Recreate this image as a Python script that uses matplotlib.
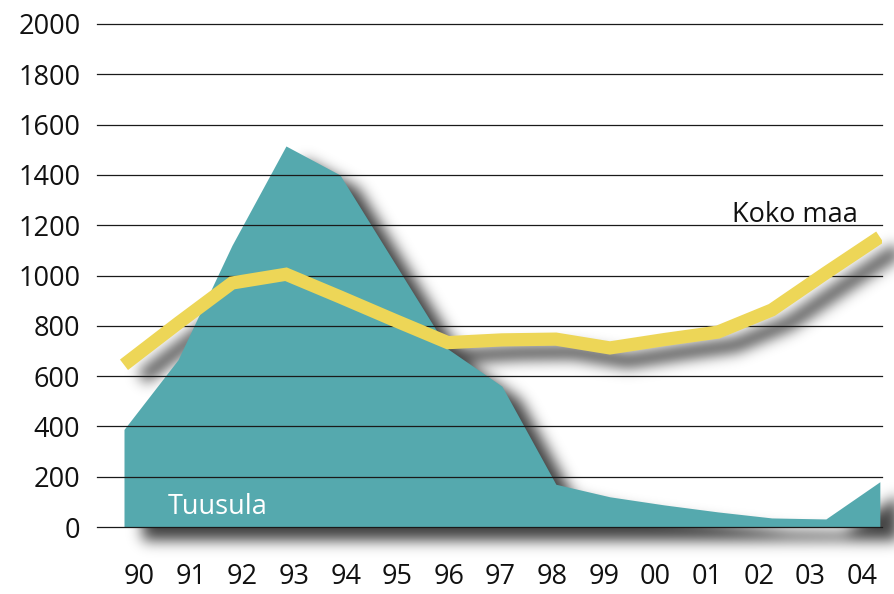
import numpy as np
import matplotlib
matplotlib.use("Agg")
import matplotlib.pyplot as plt

# data
years = ["90", "91", "92", "93", "94", "95", "96", "97", "98", "99", "00", "01", "02", "03", "04"]
tuusula = [388, 665, 1120, 1515, 1400, 1054, 708, 560, 170, 120, 88, 60, 36, 32, 180]
koko_maa = [645, 810, 970, 1005, 915, 823, 733, 744, 747, 712, 745, 775, 863, 1010, 1153]
y_ticks = [0, 200, 400, 600, 800, 1000, 1200, 1400, 1600, 1800, 2000]

teal = "#55A9AE"
yellow = "#EDD657"
LW = 9.5
FS = 19.5
W, H = 894, 594
pos = [97 / W, 1 - 527 / H, (882 - 97) / W, (527 - 24) / H]

plt.rcParams["font.family"] = ["Open Sans", "DejaVu Sans"]

x = np.arange(len(years))


def setup(ax):
    ax.set_xlim(-0.5, 14.04)
    ax.set_ylim(0, 2000)


def shadow_mask():
    # draw the shapes in black on a scratch figure, then blur them
    f2 = plt.figure(figsize=(W / 100, H / 100), dpi=100)
    a2 = f2.add_axes(pos)
    setup(a2)
    a2.axis("off")
    a2.fill_between(x, 0, tuusula, color="k", lw=0)
    a2.plot(x, koko_maa, color="k", lw=LW, solid_capstyle="butt")
    f2.canvas.draw()
    buf = np.asarray(f2.canvas.buffer_rgba()).astype(float)
    plt.close(f2)
    m = 1 - buf[..., 0] / 255.0

    sigma = 7.0
    r = np.arange(-24, 25)
    k = np.exp(-r ** 2 / (2 * sigma ** 2))
    k /= k.sum()
    m = np.apply_along_axis(lambda v: np.convolve(v, k, mode="same"), 1, m)
    m = np.apply_along_axis(lambda v: np.convolve(v, k, mode="same"), 0, m)

    dx, dy = 18, 13
    out = np.zeros_like(m)
    out[dy:, dx:] = m[:-dy, :-dx]
    return out


mask = shadow_mask()

fig = plt.figure(figsize=(W / 100, H / 100), dpi=100)
fig.patch.set_facecolor("white")

img = np.zeros((H, W, 4))
img[..., 3] = np.clip(mask * 0.75, 0, 1)
fig.figimage(img, xo=0, yo=0, origin="upper", zorder=-1)

ax = fig.add_axes(pos)
ax.set_facecolor("none")
setup(ax)

ax.fill_between(x, 0, tuusula, color=teal, lw=0, zorder=1)
for v in y_ticks:
    ax.axhline(v, color="#1a1a1a", lw=0.9, zorder=2, clip_on=False)
ax.plot(x, koko_maa, color=yellow, lw=LW, solid_capstyle="butt",
        solid_joinstyle="miter", zorder=3)

ax.text(13.59, 1213, "Koko maa", fontsize=FS, color="#111111",
        ha="right", va="baseline")
ax.text(0.81, 52, "Tuusula", fontsize=FS, color="white",
        ha="left", va="baseline", zorder=4)

ax.set_yticks(y_ticks)
ax.set_yticklabels([str(v) for v in y_ticks], fontsize=FS, color="#111111")
ax.set_xticks(np.linspace(0.28, 13.67, len(years)))
ax.set_xticklabels(years, fontsize=FS, color="#111111")
ax.tick_params(axis="y", length=0, pad=12)
ax.tick_params(axis="x", length=0, pad=26)
for s in ax.spines.values():
    s.set_visible(False)

fig.savefig("out.png", dpi=100, facecolor="white")
